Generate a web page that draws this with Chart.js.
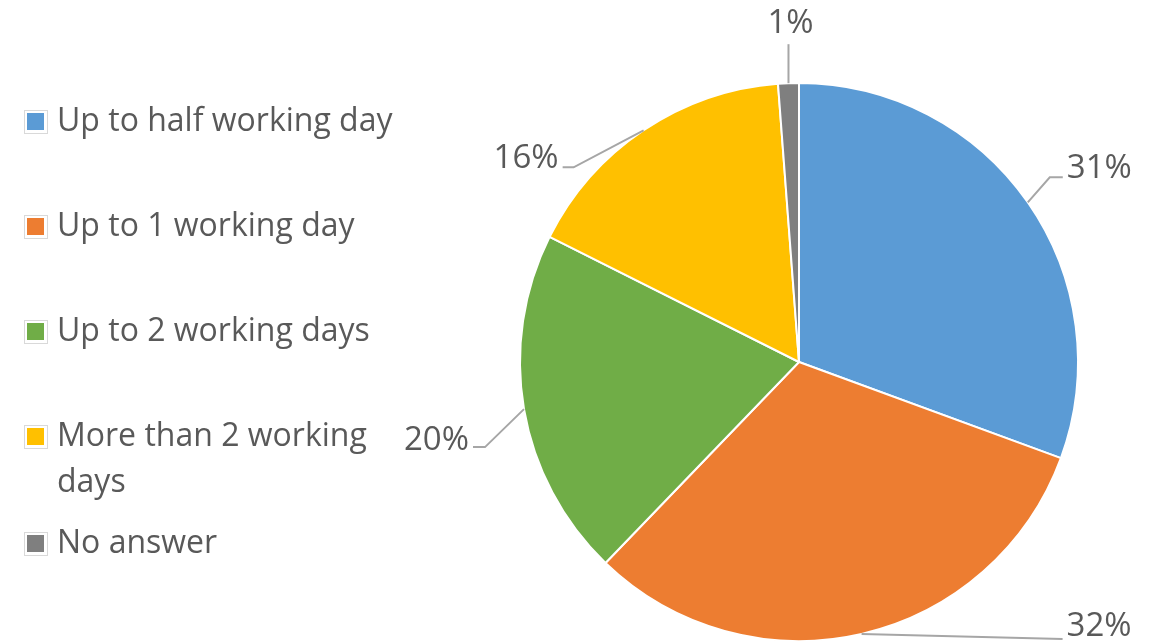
<!DOCTYPE html>
<html>
<head>
<meta charset="utf-8">
<script src="https://cdn.jsdelivr.net/npm/chart.js"></script>
<style>
  html, body { margin: 0; padding: 0; background: #ffffff; }
  #wrap { width: 1159px; height: 643px; position: relative; }
</style>
</head>
<body>
<div id="wrap"><canvas id="pieChart" width="1159" height="643"></canvas></div>
<script>
// chart data
const categories = [
    'Up to half working day',
    'Up to 1 working day',
    'Up to 2 working days',
    ['More than 2 working', 'days'],
    'No answer'
];
const shares = [30.6, 31.6, 20.2, 16.4, 1.2];
const sliceColors = ['#5B9BD5', '#ED7D31', '#70AD47', '#FFC000', '#7F7F7F'];

// label placement (leader line elbow offset, horizontal tail, text side)
const labelStyle = [
    { ex: 22, ey: -25, hx: 13, side: 'left', ty: -9 },
    { ex: 201, ey: 5, hx: 0, side: 'left', ty: -12 },
    { ex: -39, ey: 38, hx: -12, side: 'right', ty: -7 },
    { ex: -70, ey: 37, hx: -11, side: 'right', ty: -9 },
    { ex: 0, ey: -39, hx: 0, side: 'center', ty: -21 }
];
const legendY = [122, 227, 332, 437, 544];

const FONT = '"Open Sans", "Noto Sans", sans-serif';
const TEXT_COLOR = '#595959';

const leaderLabels = {
    id: 'leaderLabels',
    afterDatasetsDraw(chart) {
        const ctx = chart.ctx;
        const meta = chart.getDatasetMeta(0);
        const total = shares.reduce((a, b) => a + b, 0);
        ctx.save();
        meta.data.forEach((arc, i) => {
            const mid = (arc.startAngle + arc.endAngle) / 2;
            const r = arc.outerRadius;
            const sx = arc.x + Math.cos(mid) * r;
            const sy = arc.y + Math.sin(mid) * r;
            const st = labelStyle[i];
            const ex = sx + st.ex, ey = sy + st.ey;
            const hx = ex + st.hx;
            ctx.strokeStyle = '#A6A6A6';
            ctx.lineWidth = 2;
            ctx.beginPath();
            ctx.moveTo(sx, sy);
            ctx.lineTo(ex, ey);
            ctx.lineTo(hx, ey);
            ctx.stroke();

            const txt = Math.round(shares[i] / total * 100) + '%';
            ctx.fillStyle = TEXT_COLOR;
            ctx.font = '33px ' + FONT;
            ctx.textBaseline = 'middle';
            if (st.side === 'left') {
                ctx.textAlign = 'left';
                ctx.fillText(txt, hx + 4, ey + st.ty);
            } else if (st.side === 'right') {
                ctx.textAlign = 'right';
                ctx.fillText(txt, hx - 4, ey + st.ty);
            } else {
                ctx.textAlign = 'center';
                ctx.fillText(txt, hx + 2, ey + st.ty);
            }
        });
        ctx.restore();
    }
};

const sideLegend = {
    id: 'sideLegend',
    afterDraw(chart) {
        const ctx = chart.ctx;
        const labels = chart.data.labels;
        const colors = chart.data.datasets[0].backgroundColor;
        ctx.save();
        labels.forEach((lab, i) => {
            const y = legendY[i];
            // marker with light outline
            ctx.fillStyle = '#ffffff';
            ctx.fillRect(24, y - 12, 24, 24);
            ctx.strokeStyle = '#D9D9D9';
            ctx.lineWidth = 1;
            ctx.strokeRect(24.5, y - 11.5, 23, 23);
            ctx.fillStyle = colors[i];
            ctx.fillRect(27, y - 9, 17, 17);

            const lines = Array.isArray(lab) ? lab : [lab];
            ctx.fillStyle = TEXT_COLOR;
            ctx.font = '32px ' + FONT;
            ctx.textAlign = 'left';
            ctx.textBaseline = 'middle';
            lines.forEach((ln, k) => ctx.fillText(ln, 57, y + k * 46));
        });
        ctx.restore();
    }
};

function initializePieChart() {
    const ctx = document.getElementById('pieChart').getContext('2d');
    new Chart(ctx, {
        type: 'pie',
        data: {
            labels: categories,
            datasets: [{
                data: shares,
                backgroundColor: sliceColors,
                borderColor: '#ffffff',
                borderWidth: 2
            }]
        },
        options: {
            responsive: false,
            animation: false,
            layout: {
                padding: { left: 519, right: 80, top: 82, bottom: 1 }
            },
            plugins: {
                legend: { display: false },
                tooltip: { enabled: false }
            }
        },
        plugins: [leaderLabels, sideLegend]
    });
}

document.addEventListener('DOMContentLoaded', () => {
    initializePieChart();
});
</script>
</body>
</html>
